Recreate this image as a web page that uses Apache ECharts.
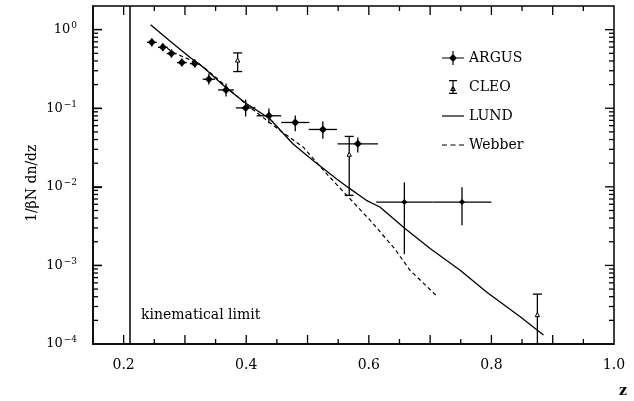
<!DOCTYPE html>
<html>
<head>
<meta charset="utf-8">
<script src="https://cdn.jsdelivr.net/npm/echarts@6/dist/echarts.min.js"></script>
<style>
html, body { margin: 0; padding: 0; background: #fff; }
#chart { width: 634px; height: 401px; }
</style>
</head>
<body>
<div id="chart"></div>
<script>
// ARGUS points: z, value, half width in z, lower / upper end of error bar
var argusZ  = [0.246, 0.264, 0.278, 0.295, 0.316, 0.339, 0.367, 0.399, 0.437, 0.480, 0.525, 0.582, 0.658, 0.752];
var argusY  = [0.69, 0.596, 0.496, 0.381, 0.370, 0.234, 0.171, 0.101, 0.0802, 0.0659, 0.0537, 0.0353, 0.0064, 0.0064];
var argusDz = [0.008, 0.008, 0.008, 0.008, 0.008, 0.010, 0.013, 0.016, 0.020, 0.023, 0.023, 0.033, 0.046, 0.048];
var argusLo = [0.61, 0.53, 0.44, 0.34, 0.33, 0.20, 0.141, 0.0785, 0.064, 0.051, 0.041, 0.0274, 0.00139, 0.00324];
var argusHi = [0.78, 0.67, 0.56, 0.43, 0.42, 0.276, 0.206, 0.129, 0.099, 0.081, 0.068, 0.0425, 0.0114, 0.00986];

// CLEO points
var cleoZ  = [0.386, 0.568, 0.875];
var cleoY  = [0.404, 0.0256, 0.000233];
var cleoLo = [0.293, 0.0078, 0.00005];
var cleoHi = [0.506, 0.0438, 0.000431];

// model curves
var lundZ = [0.244, 0.275, 0.308, 0.330, 0.368, 0.400, 0.438, 0.476, 0.509, 0.547, 0.569, 0.596, 0.618, 0.659, 0.700, 0.749, 0.792, 0.847, 0.885];
var lundY = [1.157, 0.725, 0.445, 0.332, 0.180, 0.115, 0.0741, 0.0354, 0.0217, 0.0127, 0.00948, 0.00674, 0.00554, 0.00294, 0.00164, 0.00087, 0.00046, 0.000222, 0.00013];
var webberZ = [0.262, 0.280, 0.305, 0.327, 0.349, 0.400, 0.455, 0.493, 0.531, 0.564, 0.602, 0.642, 0.667, 0.712];
var webberY = [0.658, 0.515, 0.425, 0.349, 0.253, 0.1116, 0.0522, 0.032, 0.0147, 0.0078, 0.00376, 0.00164, 0.00087, 0.0004];

var kinLimit = 0.215;

// axis ranges and ticks
var xRange = [0.15, 1.0];
var yRange = [0.0001, 2];
var xMajor = [0.2, 0.3, 0.4, 0.5, 0.6, 0.7, 0.8, 0.9];
var xMinor = [0.25, 0.35, 0.45, 0.55, 0.65, 0.75, 0.85, 0.95];
var xLabels = [0.2, 0.4, 0.6, 0.8, 1.0];
var yMajor = [0.001, 0.01, 0.1, 1];
var yLabels = [0.0001, 0.001, 0.01, 0.1, 1];
var yMinor = [];
[0.0001, 0.001, 0.01, 0.1, 1].forEach(function (d) {
    for (var k = 2; k <= 9; k++) {
        if (d * k < 2) yMinor.push(+(d * k).toPrecision(3));
    }
});

var font = 'DejaVu Serif';

function pairs(xs, ys) {
    return xs.map(function (x, i) { return [x, ys[i]]; });
}

// tick marks drawn through the axes' own scales
var xTickData = xMajor.map(function (v) { return [v, 1, 9]; })
    .concat(xMinor.map(function (v) { return [v, 1, 5]; }));
var yTickData = yMajor.map(function (v) { return [0.5, v, 9]; })
    .concat(yMinor.map(function (v) { return [0.5, v, 5]; }));

// side: 'bottom', 'top', 'left', 'right'
function tickSeries(data, side) {
    return {
        type: 'custom', data: data, silent: true, clip: false, z: 10, zlevel: 1,
        tooltip: { show: false },
        renderItem: function (params, api) {
            var len = api.value(2);
            var p, pts;
            if (side === 'bottom') {
                p = api.coord([api.value(0), yRange[0]]);
                pts = [[p[0], p[1]], [p[0], p[1] - len]];
            } else if (side === 'top') {
                p = api.coord([api.value(0), yRange[1]]);
                pts = [[p[0], p[1]], [p[0], p[1] + len]];
            } else if (side === 'left') {
                p = api.coord([xRange[0], api.value(1)]);
                pts = [[p[0], p[1]], [p[0] + len, p[1]]];
            } else {
                p = api.coord([xRange[1], api.value(1)]);
                pts = [[p[0], p[1]], [p[0] - len, p[1]]];
            }
            return { type: 'polyline', shape: { points: pts }, style: { stroke: '#000', lineWidth: 1.3, fill: null } };
        }
    };
}

var argusData = argusZ.map(function (z, i) {
    return [z, argusY[i], z - argusDz[i], z + argusDz[i], argusLo[i], argusHi[i]];
});
var cleoData = cleoZ.map(function (z, i) {
    return [z, cleoY[i], cleoLo[i], cleoHi[i]];
});

var option = {
    animation: false,
    backgroundColor: '#fff',
    grid: { left: 93, right: 20, top: 6, bottom: 57, show: true, borderColor: '#000', borderWidth: 1.5 },
    legend: {
        orient: 'vertical', left: 437, top: 46, itemWidth: 22, itemHeight: 14, itemGap: 15,
        textStyle: { fontFamily: font, fontSize: 14, color: '#000' },
        data: [
            { name: 'ARGUS', icon: 'path://M0,6.4H22V7.6H0Z M10.4,0H11.6V14H10.4Z M11,3L15,7L11,11L7,7Z' },
            { name: 'CLEO', icon: 'path://M7,0H15V1.2H7Z M7,12.8H15V14H7Z M10.4,0H11.6V14H10.4Z M11,5L14,11H8Z M11,7.2L9.6,10H12.4Z' },
            { name: 'LUND', icon: 'path://M0,0 M22,14 M0,6.4H22V7.6H0Z' },
            { name: 'Webber', icon: 'path://M0,0 M22,14 M0,6.4H5V7.6H0Z M8.5,6.4H13.5V7.6H8.5Z M17,6.4H22V7.6H17Z' }
        ]
    },
    xAxis: {
        type: 'value', min: xRange[0], max: xRange[1],
        axisLine: { show: true, lineStyle: { color: '#000', width: 1.5 } },
        axisTick: { show: false },
        axisLabel: {
            customValues: xLabels, margin: 14,
            color: '#000', fontFamily: font, fontSize: 14,
            formatter: function (v) { return v.toFixed(1); }
        },
        splitLine: { show: false }
    },
    yAxis: {
        type: 'log', logBase: 10, min: yRange[0], max: yRange[1],
        axisLine: { show: true, lineStyle: { color: '#000', width: 1.5 } },
        axisTick: { show: true, inside: true, length: 9, customValues: yMajor, lineStyle: { color: '#000', width: 1.3 } },
        axisLabel: {
            customValues: yLabels, margin: 16,
            formatter: function (v) {
                var e = Math.round(Math.log10(v));
                return '{b|10}{s|' + (e < 0 ? '\u2212' : '') + Math.abs(e) + '}';
            },
            rich: {
                b: { fontFamily: font, fontSize: 13, color: '#000' },
                s: { fontFamily: font, fontSize: 9, color: '#000', padding: [0, 0, 8, 1] }
            }
        },
        splitLine: { show: false }
    },
    graphic: [
        { type: 'text', left: 141, top: 308, style: { text: 'kinematical limit', font: '14px "DejaVu Serif"', fill: '#000' } },
        { type: 'text', left: 619, top: 384, style: { text: 'z', font: 'bold 14px "DejaVu Serif"', fill: '#000' } },
        { type: 'text', rotation: Math.PI / 2, x: 25, y: 222, style: { text: '1/\u03b2N dn/dz', font: '14px "DejaVu Serif"', fill: '#000' } }
    ],
    series: [
        {
            name: 'LUND', type: 'line', data: pairs(lundZ, lundY), symbol: 'none', clip: true,
            lineStyle: { color: '#000', width: 1.3 }, itemStyle: { color: '#000' },
            markLine: {
                silent: true, symbol: 'none', label: { show: false },
                lineStyle: { color: '#000', width: 1.5, type: 'solid' },
                data: [{ xAxis: kinLimit }]
            }
        },
        {
            name: 'Webber', type: 'line', data: pairs(webberZ, webberY), symbol: 'none', clip: true,
            lineStyle: { color: '#000', width: 1.2, type: [4, 3] }, itemStyle: { color: '#000' }
        },
        {
            name: 'ARGUS', type: 'custom', data: argusData, clip: true, itemStyle: { color: '#000' },
            renderItem: function (params, api) {
                var p = api.coord([api.value(0), api.value(1)]);
                var l = api.coord([api.value(2), api.value(1)]);
                var r = api.coord([api.value(3), api.value(1)]);
                var lo = api.coord([api.value(0), api.value(4)]);
                var hi = api.coord([api.value(0), api.value(5)]);
                var s = params.dataIndex >= 12 ? 3 : 4;
                var ls = { stroke: '#000', lineWidth: 1.3 };
                return {
                    type: 'group',
                    children: [
                        { type: 'line', shape: { x1: l[0], y1: p[1], x2: r[0], y2: p[1] }, style: ls },
                        { type: 'line', shape: { x1: p[0], y1: lo[1], x2: p[0], y2: hi[1] }, style: ls },
                        { type: 'polygon', shape: { points: [[p[0], p[1] - s], [p[0] + s, p[1]], [p[0], p[1] + s], [p[0] - s, p[1]]] }, style: { fill: '#000' } }
                    ]
                };
            }
        },
        {
            name: 'CLEO', type: 'custom', data: cleoData, clip: true, itemStyle: { color: '#000' },
            renderItem: function (params, api) {
                var p = api.coord([api.value(0), api.value(1)]);
                var lo = api.coord([api.value(0), api.value(2)]);
                var hi = api.coord([api.value(0), api.value(3)]);
                var ls = { stroke: '#000', lineWidth: 1.3 };
                var c = 4.5;
                return {
                    type: 'group',
                    children: [
                        { type: 'line', shape: { x1: p[0], y1: lo[1], x2: p[0], y2: hi[1] }, style: ls },
                        { type: 'line', shape: { x1: p[0] - c, y1: hi[1], x2: p[0] + c, y2: hi[1] }, style: ls },
                        { type: 'line', shape: { x1: p[0] - c, y1: lo[1], x2: p[0] + c, y2: lo[1] }, style: ls },
                        { type: 'polygon', shape: { points: [[p[0], p[1] - 2.5], [p[0] + 2.2, p[1] + 1.5], [p[0] - 2.2, p[1] + 1.5]] }, style: { fill: '#fff', stroke: '#000', lineWidth: 1 } }
                    ]
                };
            }
        },
        tickSeries(xTickData, 'bottom'),
        tickSeries(xTickData, 'top'),
        tickSeries(yTickData, 'left'),
        tickSeries(yTickData, 'right')
    ]
};

var chart = echarts.init(document.getElementById('chart'));
chart.setOption(option);
</script>
</body>
</html>
